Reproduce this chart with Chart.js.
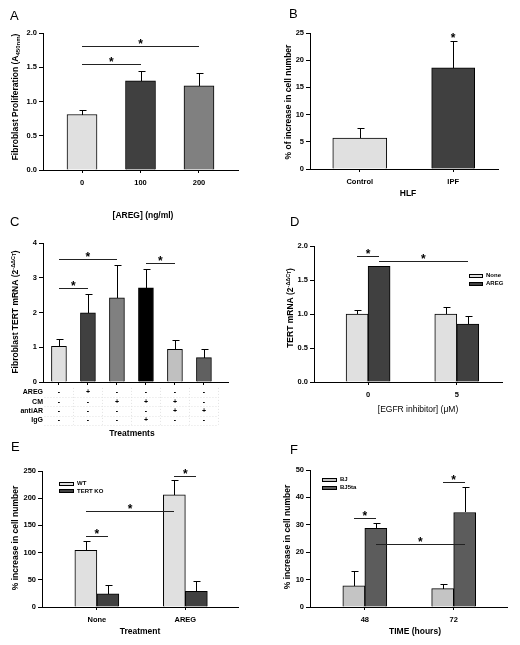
<!DOCTYPE html>
<html>
<head>
<meta charset="utf-8">
<title>AREG and TERT panels</title>
<script src="https://cdn.jsdelivr.net/npm/chart.js@4.4.1/dist/chart.umd.min.js"></script>
<style>
  body { margin: 0; background: #fff; }
  #fig { position: relative; width: 520px; height: 645px; overflow: hidden; background: #fff; }
  #fig canvas { position: absolute; }
</style>
</head>
<body>
<div id="fig">
  <canvas id="panelA"></canvas>
  <canvas id="panelB"></canvas>
  <canvas id="panelC"></canvas>
  <canvas id="panelD"></canvas>
  <canvas id="panelE"></canvas>
  <canvas id="panelF"></canvas>
</div>
<script>
// ---- data ----
var aregDoses = ['0', '100', '200'];
var prolifMean = [0.81, 1.30, 1.23];
var prolifErr = [0.07, 0.15, 0.19];

var hlfLabels = ['Control', 'IPF'];
var hlfMean = [5.7, 18.6];
var hlfErr = [1.8, 4.9];

var treatMean = [1.03, 1.99, 2.42, 2.71, 0.94, 0.70];
var treatErr = [0.22, 0.55, 0.96, 0.53, 0.28, 0.26];
var treatRows = ['AREG', 'CM', 'antiAR', 'IgG'];
var treatSigns = [
  ['-', '+', '-', '-', '-', '-'],
  ['-', '-', '+', '+', '+', '-'],
  ['-', '-', '-', '-', '+', '+'],
  ['-', '-', '-', '+', '-', '-']
];

var egfrDoses = ['0', '5'];
var egfrNone = [1.00, 1.00];
var egfrNoneErr = [0.06, 0.10];
var egfrAreg = [1.70, 0.85];
var egfrAregErr = [0.01, 0.12];

var koTreatments = ['None', 'AREG'];
var koWT = [104, 206];
var koWTErr = [18, 27];
var koTert = [24, 29];
var koTertErr = [16, 18];

var timeHours = ['48', '72'];
var timeBJ = [7.7, 6.7];
var timeBJErr = [5.6, 1.7];
var timeBJ5ta = [28.7, 34.5];
var timeBJ5taErr = [2.0, 9.3];

// significance marks: bars joined as [dataset, index], line height in axis units
var sigA = [{ a: [0, 0], b: [0, 2], y: 1.81 }, { a: [0, 0], b: [0, 1], y: 1.55 }];
var sigB = [{ a: [1, 0], b: [1, 0], y: 23.8, starOnly: true }];
var sigC = [{ a: [0, 0], b: [0, 2], y: 3.55 }, { a: [0, 0], b: [0, 1], y: 2.71 }, { a: [0, 3], b: [0, 4], y: 3.42 }];
var sigD = [{ a: [0, 0], b: [1, 0], y: 1.85 }, { a: [1, 0], b: [1, 1], y: 1.78 }];
var sigE = [{ a: [0, 0], b: [0, 1], y: 177 }, { a: [0, 0], b: [1, 0], y: 131 }, { a: [0, 1], b: [1, 1], y: 241 }];
var sigF = [{ a: [0, 0], b: [1, 0], y: 32.6 }, { a: [1, 0], b: [1, 1], y: 22.9 }, { a: [0, 1], b: [1, 1], y: 45.7 }];

// ---- styles ----
var FONT = '"Liberation Sans", Arial, Helvetica, sans-serif';
var YW = 30, XH = 20;
var LIGHT = '#e0e0e0', DARK = '#404040', MID = '#808080';

function toXY(vals) {
  return vals.map(function (v, i) { return { x: i, y: v }; });
}
function px(v) { return Math.round(v) + 0.5; }

function drawRich(ctx, parts, x, y, size, weight, rotate) {
  ctx.save();
  ctx.translate(x, y);
  if (rotate) ctx.rotate(-Math.PI / 2);
  var total = 0;
  parts.forEach(function (p) {
    ctx.font = weight + ' ' + (p.size || size) + 'px ' + FONT;
    p.w = ctx.measureText(p.t).width;
    total += p.w;
  });
  var cx = -total / 2, base = size * 0.36;
  ctx.textAlign = 'left';
  ctx.textBaseline = 'alphabetic';
  ctx.fillStyle = '#000';
  parts.forEach(function (p) {
    ctx.font = weight + ' ' + (p.size || size) + 'px ' + FONT;
    ctx.fillText(p.t, cx, base + (p.dy || 0));
    cx += p.w;
  });
  ctx.restore();
}

function extras(p) {
  return {
    id: 'extras',
    afterDraw: function (chart) {
      var ctx = chart.ctx, ys = chart.scales.y, ox = p.box.x, oy = p.box.y;
      ctx.save();
      ctx.strokeStyle = '#000';
      ctx.lineWidth = 1;
      // error bars (upper only)
      chart.data.datasets.forEach(function (ds, i) {
        chart.getDatasetMeta(i).data.forEach(function (bar, j) {
          var top = ys.getPixelForValue(ds.data[j].y + p.errors[i][j]);
          var x = px(bar.x), y1 = px(top);
          ctx.beginPath();
          ctx.moveTo(x, Math.round(bar.y));
          ctx.lineTo(x, y1);
          ctx.moveTo(x - 3, y1);
          ctx.lineTo(x + 4, y1);
          ctx.stroke();
        });
      });
      // significance lines and stars
      ctx.strokeStyle = '#222';
      ctx.fillStyle = '#000';
      ctx.font = 'bold 12px ' + FONT;
      ctx.textAlign = 'center';
      ctx.textBaseline = 'alphabetic';
      p.sig.forEach(function (s) {
        var x1 = chart.getDatasetMeta(s.a[0]).data[s.a[1]].x;
        var x2 = chart.getDatasetMeta(s.b[0]).data[s.b[1]].x;
        var y = px(ys.getPixelForValue(s.y));
        if (!s.starOnly) {
          ctx.beginPath();
          ctx.moveTo(Math.round(x1), y);
          ctx.lineTo(Math.round(x2), y);
          ctx.stroke();
        }
        ctx.fillText('*', (x1 + x2) / 2, y + 1.5);
      });
      // legend
      if (p.legend) {
        var L = p.legend;
        ctx.font = 'bold 6px ' + FONT;
        ctx.textAlign = 'left';
        ctx.textBaseline = 'middle';
        chart.data.datasets.forEach(function (ds, i) {
          var cy = L.y + i * L.step - oy;
          var lx = L.x - ox;
          ctx.fillStyle = ds.backgroundColor;
          ctx.fillRect(lx, Math.round(cy - 2), L.w, 4);
          ctx.strokeStyle = '#000';
          ctx.strokeRect(lx + 0.5, Math.round(cy - 2) + 0.5, L.w - 1, 3);
          ctx.fillStyle = '#000';
          ctx.fillText(ds.label, lx + L.w + 3, cy);
        });
      }
      // treatment table under panel C
      if (p.table) {
        var T = p.table, xs = chart.scales.x, meta = chart.getDatasetMeta(0);
        ctx.strokeStyle = '#e2e2e2';
        ctx.setLineDash([1, 2]);
        var colX = meta.data.map(function (b) { return b.x; });
        var step = colX[1] - colX[0];
        T.rows.forEach(function (r, k) {
          var ly = px(T.y0 + k * T.step + T.step / 2 - oy);
          ctx.beginPath();
          ctx.moveTo(colX[0] - step / 2, ly);
          ctx.lineTo(colX[colX.length - 1] + step / 2, ly);
          ctx.stroke();
        });
        colX.forEach(function (cx) {
          var vx = px(cx + step / 2);
          ctx.beginPath();
          ctx.moveTo(vx, T.y0 - T.step / 2 - oy);
          ctx.lineTo(vx, T.y0 + (T.rows.length - 0.5) * T.step - oy);
          ctx.stroke();
        });
        ctx.setLineDash([]);
        ctx.fillStyle = '#000';
        ctx.font = 'bold 7px ' + FONT;
        ctx.textBaseline = 'middle';
        T.rows.forEach(function (r, k) {
          var ry = T.y0 + k * T.step - oy;
          ctx.textAlign = 'right';
          ctx.fillText(r, xs.left, ry);
          ctx.textAlign = 'center';
          T.signs[k].forEach(function (sg, c) { ctx.fillText(sg, colX[c], ry); });
        });
      }
      // panel letter and axis titles
      ctx.fillStyle = '#000';
      ctx.font = '13px ' + FONT;
      ctx.textAlign = 'left';
      ctx.textBaseline = 'alphabetic';
      ctx.fillText(p.letter.t, p.letter.x - ox, p.letter.y - oy);
      drawRich(ctx, p.xTitle.parts, p.xTitle.x - ox, p.xTitle.y - oy, 8.5, p.xTitle.weight || 'bold', false);
      drawRich(ctx, p.yTitle.parts, p.yTitle.x - ox, p.yTitle.y - oy, 8.5, 'bold', true);
      ctx.restore();
    }
  };
}

function makePanel(p) {
  var canvas = document.getElementById(p.id);
  canvas.width = p.box.w;
  canvas.height = p.box.h;
  canvas.style.left = p.box.x + 'px';
  canvas.style.top = p.box.y + 'px';
  canvas.style.width = p.box.w + 'px';
  canvas.style.height = p.box.h + 'px';
  var tickFont = { family: FONT, size: 7.5, weight: 'bold' };
  return new Chart(canvas.getContext('2d'), {
    type: 'bar',
    data: { datasets: p.datasets },
    options: {
      responsive: false,
      animation: false,
      devicePixelRatio: 1,
      layout: {
        padding: {
          left: p.area.l - p.box.x - YW,
          right: p.box.x + p.box.w - p.area.r,
          top: p.area.t - p.box.y,
          bottom: p.box.y + p.box.h - p.area.b - XH
        }
      },
      plugins: { legend: { display: false }, tooltip: { enabled: false } },
      scales: {
        x: {
          type: 'linear',
          bounds: 'data',
          min: p.xMin,
          max: p.xMax,
          offset: false,
          afterBuildTicks: function (s) {
            s.ticks = p.labels.map(function (l, i) { return { value: i }; });
          },
          afterFit: function (s) { s.height = XH; },
          grid: { display: true, drawOnChartArea: false, drawTicks: true, tickLength: 3, color: '#000', offset: false },
          border: { display: true, color: '#000', width: 1 },
          ticks: {
            display: !p.hideXTicks,
            color: '#000', font: tickFont, padding: 5, maxRotation: 0, autoSkip: false,
            callback: function (v, i) { return p.labels[i]; }
          }
        },
        y: {
          bounds: 'data',
          min: 0,
          max: p.yMax,
          afterFit: function (s) { s.width = YW; },
          grid: { display: true, drawOnChartArea: false, drawTicks: true, tickLength: 4, color: '#000' },
          border: { display: true, color: '#000', width: 1 },
          ticks: {
            stepSize: p.yStep, color: '#000', font: tickFont, padding: 2,
            callback: function (v) { return p.yDecimals ? v.toFixed(p.yDecimals) : v; }
          }
        }
      }
    },
    plugins: [extras(p)]
  });
}

function barSet(label, vals, color, thickness, extra) {
  var ds = { label: label, data: toXY(vals), backgroundColor: color, borderColor: '#000', borderWidth: 1, barThickness: thickness };
  if (extra) Object.keys(extra).forEach(function (k) { ds[k] = extra[k]; });
  return ds;
}

var sup = [{ t: '-ΔΔC', size: 5.5, dy: -3.5 }, { t: 'T', size: 4.5, dy: -2 }, { t: ')' }];

// A
makePanel({
  id: 'panelA', box: { x: 0, y: 0, w: 260, h: 225 }, area: { l: 43, r: 238, t: 33, b: 170 },
  labels: aregDoses, xMin: -0.667, xMax: 2.667, yMax: 2, yStep: 0.5, yDecimals: 1,
  datasets: [barSet('Proliferation', prolifMean, [LIGHT, DARK, MID], 30)],
  errors: [prolifErr], sig: sigA,
  letter: { t: 'A', x: 10, y: 20 },
  xTitle: { parts: [{ t: '[AREG] (ng/ml)' }], x: 143, y: 215 },
  yTitle: { parts: [{ t: 'Fibroblast Proliferation (A' }, { t: '450nm', size: 6, dy: 2 }, { t: ')' }], x: 15, y: 97 }
});

// B
makePanel({
  id: 'panelB', box: { x: 260, y: 0, w: 260, h: 210 }, area: { l: 310, r: 498, t: 33, b: 169 },
  labels: hlfLabels, xMin: -0.533, xMax: 1.48, yMax: 25, yStep: 5,
  datasets: [
    barSet(hlfLabels[0], [hlfMean[0]], LIGHT, 54, { grouped: false }),
    { label: hlfLabels[1], data: [{ x: 1, y: hlfMean[1] }], backgroundColor: DARK, borderColor: '#000', borderWidth: 1, barThickness: 43, grouped: false }
  ],
  errors: [[hlfErr[0]], [hlfErr[1]]], sig: sigB,
  letter: { t: 'B', x: 289, y: 18 },
  xTitle: { parts: [{ t: 'HLF' }], x: 408, y: 193 },
  yTitle: { parts: [{ t: '% of increase in cell number' }], x: 288, y: 102 }
});

// C
makePanel({
  id: 'panelC', box: { x: 0, y: 205, w: 260, h: 235 }, area: { l: 43, r: 228, t: 243, b: 382 },
  labels: treatMean.map(function () { return ''; }), hideXTicks: true,
  xMin: -0.55, xMax: 5.83, yMax: 4, yStep: 1,
  datasets: [barSet('TERT', treatMean, [LIGHT, DARK, MID, '#000000', '#c0c0c0', '#606060'], 15)],
  errors: [treatErr], sig: sigC,
  table: { rows: treatRows, signs: treatSigns, y0: 392.5, step: 9.2 },
  letter: { t: 'C', x: 10, y: 226 },
  xTitle: { parts: [{ t: 'Treatments' }], x: 132, y: 433 },
  yTitle: { parts: [{ t: 'Fibroblast TERT mRNA (2' }].concat(sup), x: 15, y: 312 }
});

// D
makePanel({
  id: 'panelD', box: { x: 260, y: 205, w: 260, h: 215 }, area: { l: 314, r: 502, t: 246, b: 382 },
  labels: egfrDoses, xMin: -0.61, xMax: 1.51, yMax: 2, yStep: 0.5, yDecimals: 1,
  datasets: [barSet('None', egfrNone, LIGHT, 22), barSet('AREG', egfrAreg, DARK, 22)],
  errors: [egfrNoneErr, egfrAregErr], sig: sigD,
  legend: { x: 469, y: 275.5, step: 8, w: 14 },
  letter: { t: 'D', x: 290, y: 226 },
  xTitle: { parts: [{ t: '[EGFR inhibitor] (μM)' }], x: 418, y: 409, weight: 'normal' },
  yTitle: { parts: [{ t: 'TERT mRNA (2' }].concat(sup), x: 290, y: 308 }
});

// E
makePanel({
  id: 'panelE', box: { x: 0, y: 425, w: 260, h: 220 }, area: { l: 42, r: 238, t: 471, b: 607 },
  labels: koTreatments, xMin: -0.62, xMax: 1.595, yMax: 250, yStep: 50,
  datasets: [barSet('WT', koWT, LIGHT, 22), barSet('TERT KO', koTert, DARK, 22)],
  errors: [koWTErr, koTertErr], sig: sigE,
  legend: { x: 59, y: 483.5, step: 7.7, w: 15 },
  letter: { t: 'E', x: 11, y: 451 },
  xTitle: { parts: [{ t: 'Treatment' }], x: 140, y: 631 },
  yTitle: { parts: [{ t: '% increase in cell number' }], x: 15, y: 538 }
});

// F
makePanel({
  id: 'panelF', box: { x: 260, y: 425, w: 260, h: 220 }, area: { l: 310, r: 507, t: 470, b: 607 },
  labels: timeHours, xMin: -0.617, xMax: 1.60, yMax: 50, yStep: 10,
  datasets: [barSet('BJ', timeBJ, '#c4c4c4', 22), barSet('BJ5ta', timeBJ5ta, '#5c5c5c', 22)],
  errors: [timeBJErr, timeBJ5taErr], sig: sigF,
  legend: { x: 322, y: 479.5, step: 8.2, w: 15 },
  letter: { t: 'F', x: 290, y: 454 },
  xTitle: { parts: [{ t: 'TIME (hours)' }], x: 415, y: 631 },
  yTitle: { parts: [{ t: '% increase in cell number' }], x: 287, y: 537 }
});
</script>
</body>
</html>
